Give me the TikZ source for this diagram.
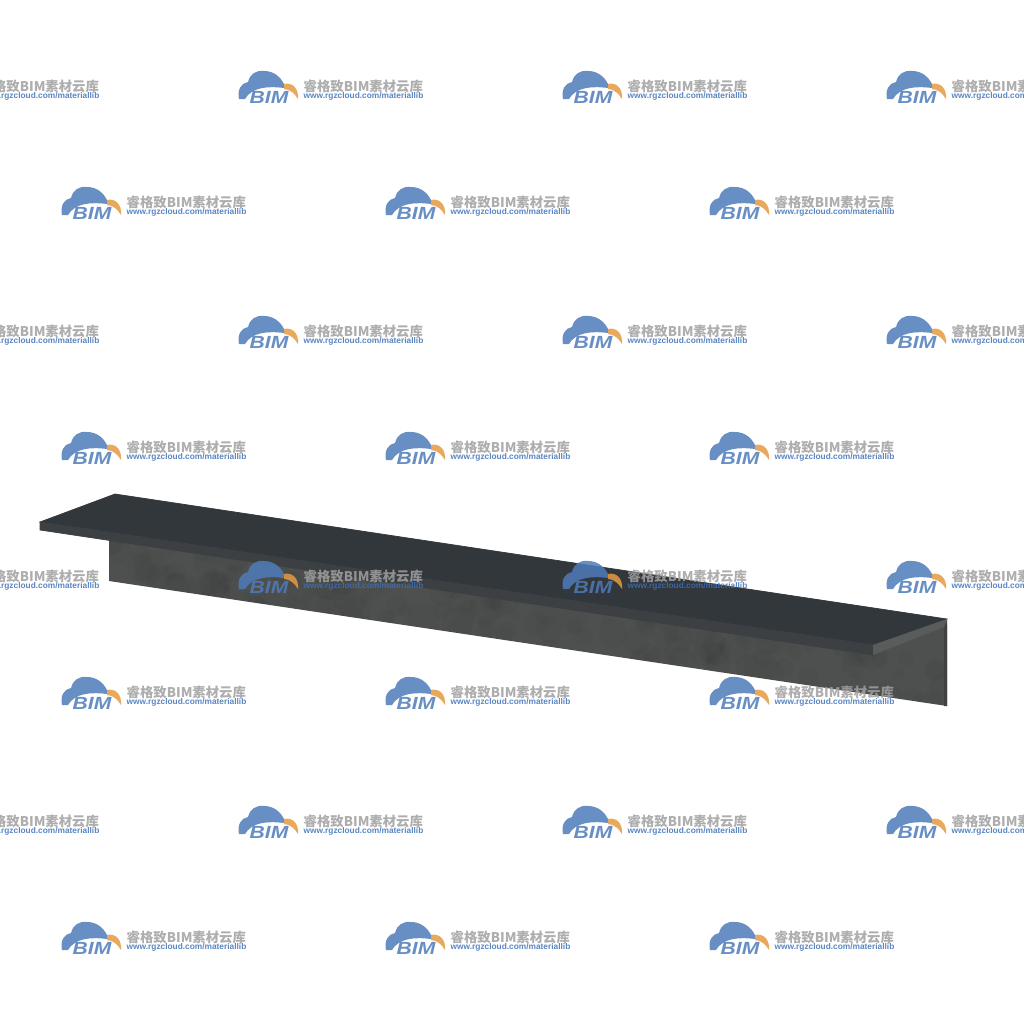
\documentclass[tikz,border=0pt]{standalone}
\usepackage{fontspec}
\setmainfont{Liberation Sans}
\newfontfamily\cjkfont{Noto Sans CJK SC}
\definecolor{topgrey}{RGB}{50,55,60}
\definecolor{edgegrey}{RGB}{60,64,66}
\definecolor{webgrey}{RGB}{78,80,79}
\definecolor{endgrey}{RGB}{88,92,91}
\definecolor{stripgrey}{RGB}{64,66,66}
\definecolor{logoblue}{RGB}{78,124,186}
\definecolor{urlblue}{RGB}{60,112,184}
\definecolor{logoorange}{RGB}{230,155,65}
\definecolor{logotext}{RGB}{160,160,160}
\tikzset{
    logotitle/.style={anchor=west, inner sep=0pt, text=logotext, font=\cjkfont\bfseries\fontsize{3.8}{4}\selectfont},
    logourl/.style={anchor=west, inner sep=0pt, text=urlblue, font=\bfseries\fontsize{2.37}{3}\selectfont},
    logobim/.style={anchor=center, inner sep=0pt, text=logoblue, xscale=1.2, font=\bfseries\itshape\fontsize{5}{6}\selectfont},
}
% one watermark, (#1,#2) is the left top of the cloud
\newcommand{\wmark}[3]{
\begin{scope}[shift={(#1,#2)}]
\fill[logoblue] (1,29) .. controls (-1,20) and (3,13) .. (10,12) .. controls (12,4) and (18,0) .. (26,1)
    .. controls (35,1) and (42,6) .. (46,14) -- (46,18) .. controls (30,16) and (14,17) .. (7,29) -- cycle;
\fill[logoorange] (46,14) .. controls (54,12) and (61,18) .. (60,29) .. controls (57,24) and (52,19) .. (46,19) -- cycle;
\node[logobim] (b#3) at (31,27) {BIM};
\node[logotitle] (t#3) at (65,16) {睿格致BIM素材云库};
\node[logourl] (u#3) at (65,26) {www.rgzcloud.com/materiallib};
\end{scope}
}
\begin{document}
\begin{tikzpicture}[x=0.01cm,y=-0.01cm]
\useasboundingbox (0,0) rectangle (1024,1024);
\fill[white] (0,0) rectangle (1024,1024);
% the beam
\fill[webgrey] (109,538) -- (109,581) -- (947,706) -- (947,625) -- (873,652) -- cycle;
\begin{scope}
\clip (109,538) -- (109,581) -- (947,706) -- (947,625) -- (873,652) -- cycle;
\pgfmathsetseed{7}
\foreach \n in {1,...,150} {
    \pgfmathsetmacro{\xblob}{109+rnd*838}
    \pgfmathsetmacro{\yblob}{560+(\xblob-109)*0.149+rnd*50-25}
    \pgfmathsetmacro{\rblob}{5+rnd*12}
    \fill[black, opacity=0.022] (\xblob,\yblob) circle[radius=\rblob];
}
\end{scope}
\fill[stripgrey] (944,626) -- (947,619) -- (947,706) -- (944,706) -- cycle;
\filldraw[topgrey, line width=0.2pt] (40,522) -- (115,494) -- (947,619) -- (873,645) -- cycle;
\filldraw[edgegrey, line width=0.2pt] (40,522) -- (873,645) -- (873,655) -- (40,530) -- cycle;
\fill[endgrey] (873,645) -- (947,619) -- (944,627) -- (873,655) -- cycle;
% watermarks
\begin{scope}[opacity=0.85]
\foreach \yrow in {70,315,560,805}
    \foreach \xcol in {-86,238,562,886}
        \wmark{\xcol}{\yrow}{\xcol-\yrow};
\foreach \yrow in {186,431,676,921}
    \foreach \xcol in {61,385,709}
        \wmark{\xcol}{\yrow}{\xcol-\yrow};
\end{scope}
\end{tikzpicture}
\end{document}
